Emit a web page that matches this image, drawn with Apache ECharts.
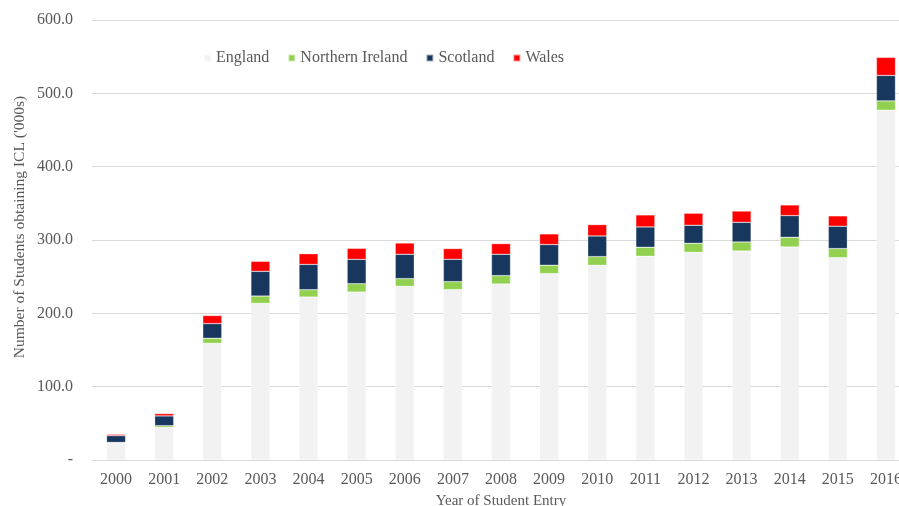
<!DOCTYPE html>
<html>
<head>
<meta charset="utf-8">
<script src="https://cdn.jsdelivr.net/npm/echarts@6/dist/echarts.min.js"></script>
<style>
  html, body { margin: 0; padding: 0; background: #ffffff; }
  #chart { width: 899px; height: 506px; }
</style>
</head>
<body>
<div id="chart"></div>
<script>
// Students obtaining ICL ('000s) by year of entry, stacked by nation
const years = ['2000','2001','2002','2003','2004','2005','2006','2007','2008',
               '2009','2010','2011','2012','2013','2014','2015','2016'];
const england         = [23.2, 44.5, 159.0, 213.6, 222.2, 229.0, 236.8, 232.3, 240.0,
                         254.2, 265.5, 277.8, 283.2, 285.0, 290.5, 276.0, 477.0];
const northernIreland = [0.8, 2.3, 7.0, 10.0, 10.0, 11.4, 10.5, 10.9, 11.4,
                         11.4, 11.8, 12.3, 12.3, 12.3, 13.2, 12.3, 12.7];
const scotland        = [9.2, 13.3, 20.0, 33.7, 34.5, 33.2, 33.2, 30.5, 29.1,
                         28.2, 28.2, 27.7, 24.6, 26.8, 29.6, 30.5, 34.7];
const wales           = [1.8, 3.2, 11.0, 13.6, 14.6, 15.0, 15.4, 14.6, 14.6,
                         14.5, 15.5, 16.4, 16.4, 15.4, 14.5, 14.1, 24.6];

const seriesNames  = ['England', 'Northern Ireland', 'Scotland', 'Wales'];
const seriesValues = [england, northernIreland, scotland, wales];
const seriesColors = ['#f2f2f2', '#92d050', '#17375e', '#ff0000'];

const fontFamily = '"Liberation Serif", "Times New Roman", serif';
const textGrey = '#595959';

const chart = echarts.init(document.getElementById('chart'), null, { renderer: 'canvas' });

chart.setOption({
  animation: false,
  backgroundColor: '#ffffff',
  textStyle: { fontFamily: fontFamily },
  legend: {
    data: seriesNames,
    left: 198,
    top: 45,
    itemWidth: 7,
    itemHeight: 7,
    itemGap: 18,
    icon: 'rect',
    textStyle: { fontFamily: fontFamily, fontSize: 16, color: textGrey }
  },
  grid: { left: 92, right: -11, top: 20, bottom: 46, containLabel: false, outerBoundsMode: 'none' },
  xAxis: {
    type: 'category',
    data: years,
    name: 'Year of Student Entry',
    nameLocation: 'middle',
    nameGap: 34,
    nameTextStyle: { fontFamily: fontFamily, fontSize: 15, color: textGrey },
    axisLine: { show: true, lineStyle: { color: '#d9d9d9', width: 1 } },
    axisTick: { show: false },
    axisLabel: { fontFamily: fontFamily, fontSize: 16, color: textGrey, margin: 12 }
  },
  yAxis: {
    type: 'value',
    min: 0,
    max: 600,
    interval: 100,
    axisLine: { show: false },
    axisTick: { show: false },
    splitLine: { lineStyle: { color: '#d9d9d9', width: 1 } },
    axisLabel: {
      fontFamily: fontFamily, fontSize: 16, color: textGrey, margin: 19,
      formatter: function (v) { return v === 0 ? '-' : v.toFixed(1); }
    }
  },
  graphic: [{
    type: 'text',
    x: 20,
    y: 227,
    rotation: Math.PI / 2,
    style: {
      text: "Number of Students obtaining ICL ('000s)",
      fontFamily: fontFamily,
      fontSize: 15.5,
      fill: textGrey,
      align: 'center',
      verticalAlign: 'middle'
    }
  }],
  series: seriesNames.map(function (name, i) {
    return {
      name: name,
      type: 'bar',
      stack: 'total',
      barWidth: 19,
      data: seriesValues[i],
      itemStyle: { color: seriesColors[i], borderColor: 'rgba(255,255,255,0.6)', borderWidth: 0.5 }
    };
  })
});
</script>
</body>
</html>
